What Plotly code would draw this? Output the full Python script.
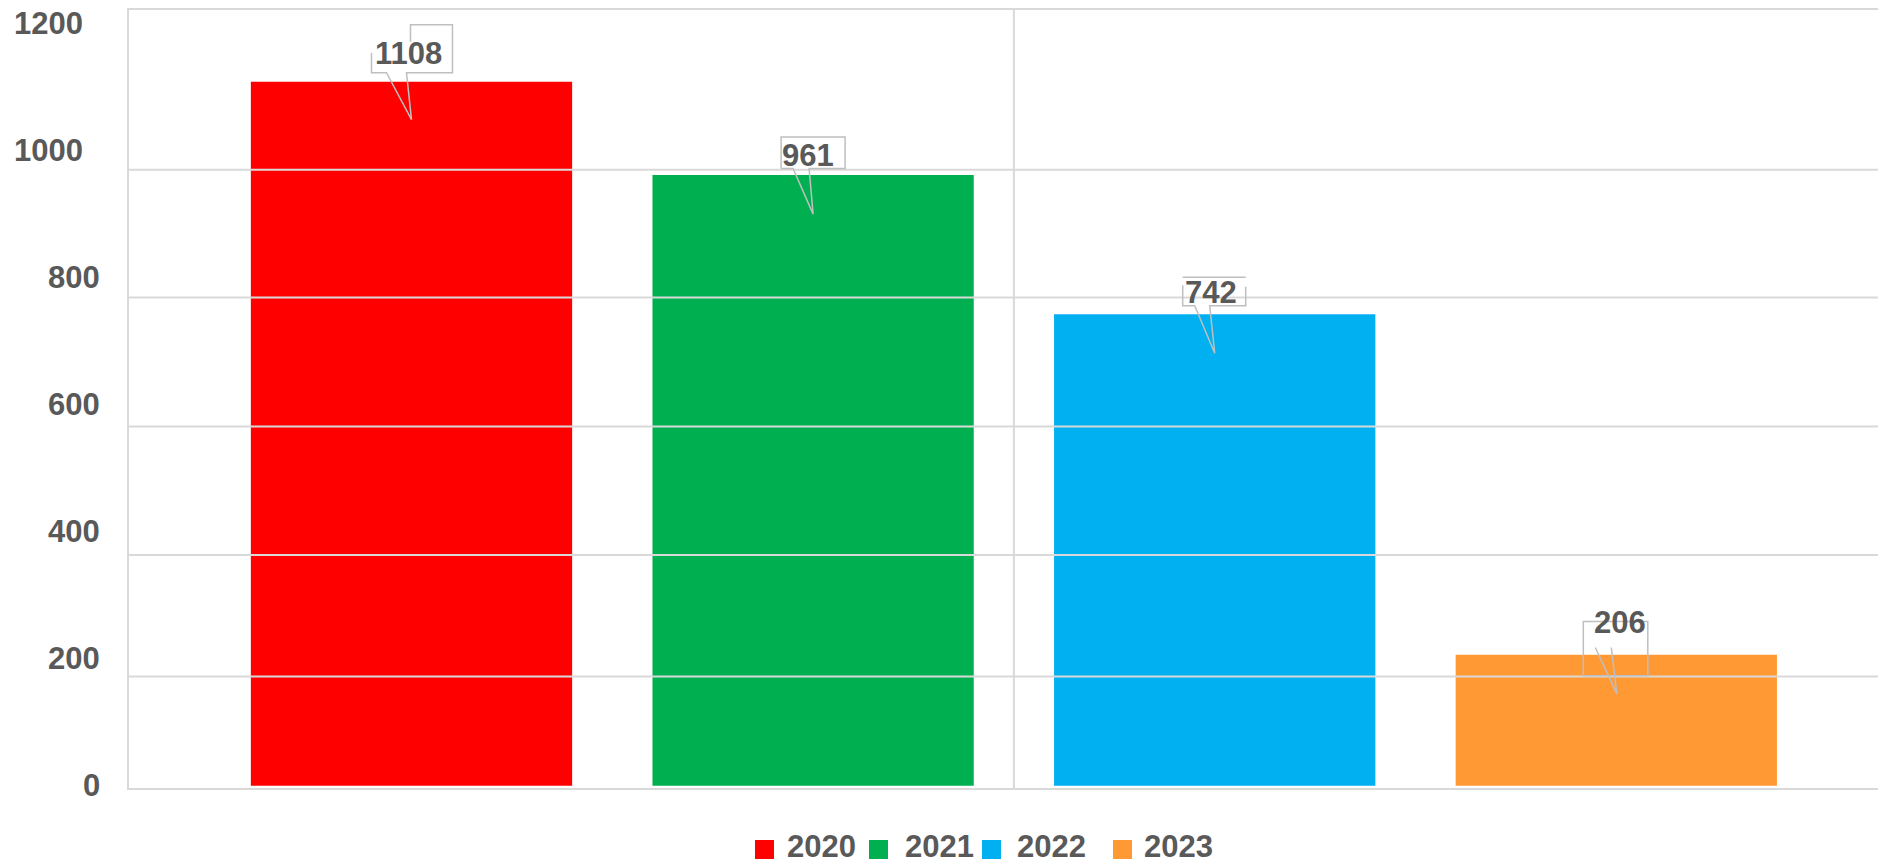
import plotly.graph_objects as go

# ---------------- data ----------------
years = ["2020", "2021", "2022", "2023"]
counts = [1108, 961, 742, 206]
bar_colors = ["#FF0000", "#00B050", "#00B0F0", "#FF9933"]
y_ticks = [0, 200, 400, 600, 800, 1000, 1200]

# ---------------- layout / style constants ----------------
W, H = 1878, 866
PL, PR, PT, PB = 129, 1878, 10, 788          # plot area in page pixels
Y_RANGE = [-3.6, 1220.8]
X_RANGE = [-0.7034, 3.6516]
GRID_Y = [172.0, 363.1, 565.5, 768.5, 969.5]  # where the reference draws its gridlines
GRID_COLOR = "#D9D9D9"
TEXT_COLOR = "#595959"
FONT = "Liberation Sans, Arial, sans-serif"
FS = 31
CALLOUT_COLOR = "#BFBFBF"

# callout outlines (pixel offsets from bar centre / bar top, +y = up)
CALLOUT_PATHS = [
    [[(-40, 29), (-40, 9), (-25, 9), (0, -38), (-5, 9), (41, 9), (41, 57), (-1, 57), (-1, 40)]],
    [[(-32, 6.7), (-32, 38), (32, 38), (32, 6.7), (-4, 6.7), (0, -39), (-20, 6.7), (-32, 6.7)]],
    [[(-32, 29), (-32, 8.6), (-20, 8.6), (0, -39), (-5, 8.6), (31, 8.6), (31, 27.5)],
     [(-32, 37), (31, 37)]],
    [[(-33, -21), (-33, 33.3), (31.5, 33.3), (31.5, -21), (-33, -21)],
     [(-21, 7.3), (0.5, -39), (-5, 7.3)]],
]
LABEL_SHIFT = [(-2.5, 28), (-5, 20), (-3.4, 22), (4, 32.5)]

LEG_SQ_X = [755, 869, 982, 1113]
LEG_TX_X = [785, 903, 1015, 1142]
LEG_SQ_Y = (840, 859)
LEG_TX_Y = 846


def px_x(X):
    return (X - PL) / (PR - PL)


def px_y(Y):
    return (PB - Y) / (PB - PT)


fig = go.Figure()
positions = list(range(len(years)))
for i, (yr, v, c) in enumerate(zip(years, counts, bar_colors)):
    fig.add_trace(go.Bar(
        x=[positions[i]], y=[v], name=yr, width=0.8,
        marker=dict(color=c, line=dict(width=0)),
        showlegend=False, hovertemplate=yr + ": %{y}<extra></extra>",
    ))

shapes = []
# gridlines (drawn over the bars, as in the reference)
for g in GRID_Y:
    shapes.append(dict(type="line", xref="paper", x0=0, x1=1, yref="y", y0=g, y1=g,
                       line=dict(color=GRID_COLOR, width=2), layer="above"))
# vertical divider at the middle of the bars
mid = sum(positions) / len(positions)
shapes.append(dict(type="line", xref="x", x0=mid, x1=mid, yref="paper", y0=0, y1=1,
                   line=dict(color=GRID_COLOR, width=2), layer="above"))

# callouts
for i, v in enumerate(counts):
    d = ""
    for seg in CALLOUT_PATHS[i]:
        d += "M" + " L".join(f"{dx},{dy}" for dx, dy in seg) + " "
    shapes.append(dict(type="path", path=d.strip(), xref="x", yref="y",
                       xsizemode="pixel", ysizemode="pixel",
                       xanchor=positions[i], yanchor=v,
                       line=dict(color=CALLOUT_COLOR, width=1.5), layer="above"))

# legend squares
for i, c in enumerate(bar_colors):
    shapes.append(dict(type="rect", xref="paper", yref="paper",
                       x0=px_x(LEG_SQ_X[i]), x1=px_x(LEG_SQ_X[i] + 19),
                       y0=px_y(LEG_SQ_Y[0]), y1=px_y(LEG_SQ_Y[1]),
                       fillcolor=c, line=dict(width=0)))

annotations = []
# value labels
for i, v in enumerate(counts):
    dx, dy = LABEL_SHIFT[i]
    annotations.append(dict(x=positions[i], y=v, xref="x", yref="y", text=str(v),
                            showarrow=False, xanchor="center", yanchor="middle",
                            xshift=dx, yshift=dy,
                            font=dict(family=FONT, size=FS, color=TEXT_COLOR, weight="bold")))
# y tick labels
for t in y_ticks:
    right = 85 if len(str(t)) >= 4 else 102
    annotations.append(dict(x=px_x(right), y=t, xref="paper", yref="y", text=str(t),
                            showarrow=False, xanchor="right", yanchor="middle",
                            font=dict(family=FONT, size=FS, color=TEXT_COLOR, weight="bold")))
# legend texts
for i, yr in enumerate(years):
    annotations.append(dict(x=px_x(LEG_TX_X[i]), y=px_y(LEG_TX_Y), xref="paper", yref="paper",
                            text=yr, showarrow=False, xanchor="left", yanchor="middle",
                            font=dict(family=FONT, size=FS, color=TEXT_COLOR, weight="bold")))

fig.update_layout(
    width=W, height=H,
    margin=dict(l=PL, r=W - PR, t=PT, b=H - PB),
    paper_bgcolor="white", plot_bgcolor="white",
    barmode="overlay",
    showlegend=False,
    shapes=shapes, annotations=annotations,
    xaxis=dict(range=X_RANGE, showgrid=False, zeroline=False, showticklabels=False,
               showline=True, linecolor=GRID_COLOR, linewidth=2, mirror=True, ticks=""),
    yaxis=dict(range=Y_RANGE, showgrid=False, zeroline=False, showticklabels=False,
               showline=True, linecolor=GRID_COLOR, linewidth=2, ticks=""),
)

fig.write_html("out.html", config={"displayModeBar": False},
               post_script="document.body.style.margin='0';document.body.style.overflow='hidden';")
